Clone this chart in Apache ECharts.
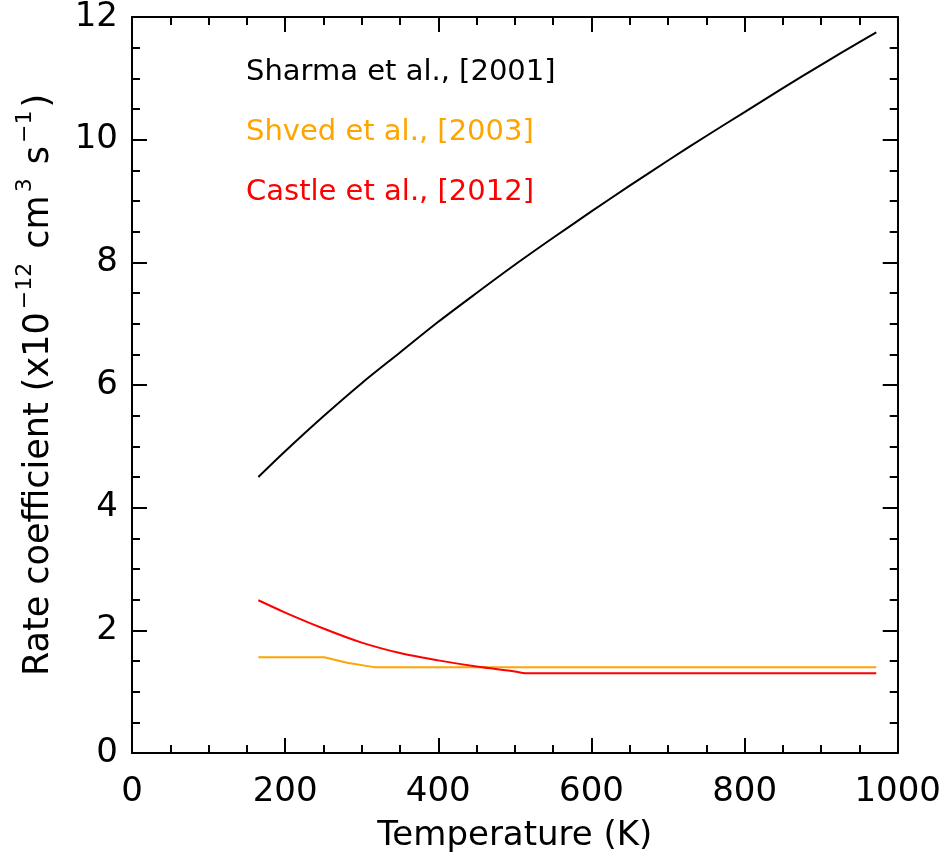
<!DOCTYPE html>
<html>
<head>
<meta charset="utf-8">
<script src="https://cdn.jsdelivr.net/npm/echarts@6/dist/echarts.min.js"></script>
<style>html,body{margin:0;padding:0;background:#fff;}#c{width:944px;height:858px;}</style>
</head>
<body>
<div id="c"></div>
<script>
// Data (T in K, rate in 1e-12 cm^3 s^-1)
const sharmaT = [165, 200, 250, 300, 350, 400, 450, 500, 550, 600, 650, 700, 750, 800, 850, 900, 950, 972];
const sharmaK = [4.50, 4.92, 5.49, 6.03, 6.53, 7.03, 7.50, 7.96, 8.40, 8.83, 9.25, 9.66, 10.06, 10.45, 10.84, 11.22, 11.59, 11.75];
const shvedT = [165, 251, 281, 316, 972];
const shvedK = [1.56, 1.56, 1.47, 1.40, 1.40];
const castleT = [165, 200, 250, 300, 350, 400, 450, 500, 514, 972];
const castleK = [2.49, 2.29, 2.03, 1.80, 1.63, 1.51, 1.41, 1.33, 1.30, 1.30];
const seriesNames = ['Sharma et al., [2001]', 'Shved et al., [2003]', 'Castle et al., [2012]'];
const seriesColors = ['#000000', '#FFA500', '#FF0000'];
const xTicks = [0, 200, 400, 600, 800, 1000];
const yTicks = [0, 2, 4, 6, 8, 10, 12];

const zip = (a, b) => a.map((v, i) => [v, b[i]]);
const FONT = 'DejaVu Sans';

const axisCommon = {
  axisLine: { show: true, onZero: false, lineStyle: { color: '#000', width: 2 } },
  axisTick: { show: true, inside: true, length: 15, lineStyle: { color: '#000', width: 2 } },
  minorTick: { show: true, splitNumber: 4, length: 8, lineStyle: { color: '#000', width: 2 } },
  splitLine: { show: false },
  minorSplitLine: { show: false }
};

const chart = echarts.init(document.getElementById('c'));
chart.setOption({
  animation: false,
  backgroundColor: '#fff',
  grid: { left: 132, right: 44, top: 15, bottom: 99, containLabel: false },
  legend: {
    orient: 'vertical',
    left: 236,
    top: 53,
    itemGap: 31,
    itemWidth: 0,
    itemHeight: 0,
    icon: 'none',
    data: seriesNames.map((n, i) => ({ name: n, textStyle: { color: seriesColors[i], fontSize: 29, fontFamily: FONT } }))
  },
  xAxis: [
    Object.assign({
      type: 'value', min: 0, max: 1000, interval: 200, position: 'bottom',
      name: 'Temperature (K)', nameLocation: 'middle', nameGap: 66,
      nameTextStyle: { fontSize: 34, fontFamily: FONT, color: '#000' },
      axisLabel: { show: true, margin: 22, fontSize: 34, fontFamily: FONT, color: '#000',
        formatter: v => xTicks.includes(v) ? String(v) : '' }
    }, axisCommon),
    Object.assign({
      type: 'value', min: 0, max: 1000, interval: 200, position: 'top',
      axisLabel: { show: false }
    }, axisCommon)
  ],
  yAxis: [
    Object.assign({
      type: 'value', min: 0, max: 12, interval: 2, position: 'left',
      name: '{a|Rate coefficient (x10}{s|−12}{a| cm}{s|3}{a| s}{s|−1}{a|)}',
      nameLocation: 'middle', nameGap: 76, nameRotate: 90,
      nameTextStyle: {
        color: '#000', fontFamily: FONT,
        rich: {
          a: { fontSize: 35, fontFamily: FONT, color: '#000', lineHeight: 42, verticalAlign: 'bottom' },
          s: { fontSize: 22, fontFamily: FONT, color: '#000', lineHeight: 42, verticalAlign: 'top', padding: [0, 3, 0, 3] }
        }
      },
      axisLabel: { show: true, margin: 14, fontSize: 34, fontFamily: FONT, color: '#000',
        formatter: v => yTicks.includes(v) ? String(v) : '' }
    }, axisCommon),
    Object.assign({
      type: 'value', min: 0, max: 12, interval: 2, position: 'right',
      axisLabel: { show: false }
    }, axisCommon)
  ],
  series: [
    { name: seriesNames[0], type: 'line', data: zip(sharmaT, sharmaK), smooth: 0.3, showSymbol: false,
      lineStyle: { color: seriesColors[0], width: 2 }, itemStyle: { color: seriesColors[0] } },
    { name: seriesNames[1], type: 'line', data: zip(shvedT, shvedK), showSymbol: false,
      lineStyle: { color: seriesColors[1], width: 2 }, itemStyle: { color: seriesColors[1] } },
    { name: seriesNames[2], type: 'line', data: zip(castleT, castleK), smooth: 0.3, showSymbol: false,
      lineStyle: { color: seriesColors[2], width: 2 }, itemStyle: { color: seriesColors[2] } }
  ]
});
</script>
</body>
</html>
